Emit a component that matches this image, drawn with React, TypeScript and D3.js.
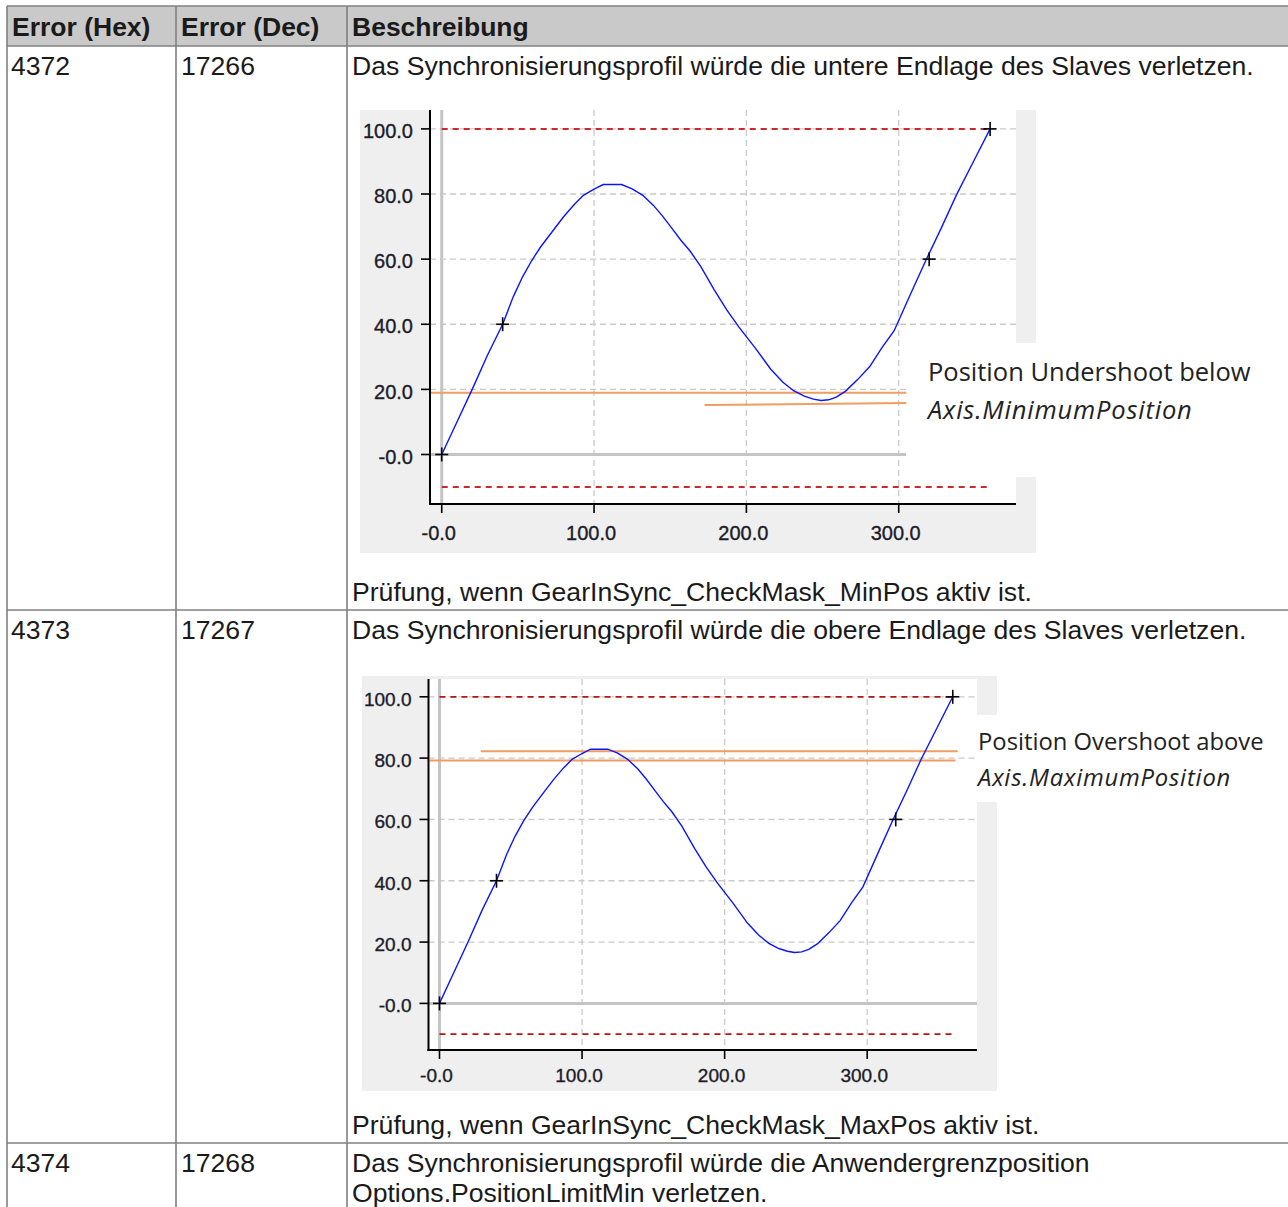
import React from 'react'
import * as d3 from 'd3'

// cam profile (master position -> slave position)
const profileX = [0, 10, 20, 30, 40, 47, 53, 59, 65, 71, 80, 87, 93, 100, 106, 112, 118, 125, 132, 139, 145, 151, 157, 163, 170, 179, 187, 195, 206, 216, 224, 231, 238, 244, 249, 254, 259, 265, 273, 281, 289, 297, 308, 318, 328, 338, 349, 360]
const profileY = [0, 10, 20, 30.5, 40, 48.5, 54.5, 59.5, 63.8, 67.5, 73, 76.8, 79.6, 81.5, 82.9, 82.9, 82.9, 81.6, 79.6, 76.5, 73.2, 69.5, 65.8, 62.5, 57.8, 50.5, 44.5, 39.2, 32.6, 26.2, 22.2, 19.6, 17.9, 17.0, 16.6, 16.8, 17.6, 19.4, 23, 27, 32.8, 38, 49.5, 59.8, 69.6, 79.8, 89.9, 100]

const markerX = [0, 40, 320, 360]
const markerY = [0, 40, 60, 100]

const xTicks = [0, 100, 200, 300]
const yTicks = [0, 20, 40, 60, 80, 100]
const upperLimit = 100
const lowerLimit = -10
const limitEnd = 360
const xDomain = [-7.7, 377]
const yDomain = [-15.2, 105.8]

// orange guide lines [x0, x1, y0, y1]
const undershootLines = [
  [-7.7, 305, 19.0, 19.0],
  [172.5, 305, 15.2, 15.8],
]
const overshootLines = [
  [29, 363.5, 82.2, 82.2],
  [-7, 362, 79.2, 79.2],
]

const headers = ['Error (Hex)', 'Error (Dec)', 'Beschreibung']
const hexCodes = ['4372', '4373', '4374']
const decCodes = ['17266', '17267', '17268']
const descriptions = [
  ['Das Synchronisierungsprofil würde die untere Endlage des Slaves verletzen.'],
  ['Das Synchronisierungsprofil würde die obere Endlage des Slaves verletzen.'],
  ['Das Synchronisierungsprofil würde die Anwendergrenzposition', 'Options.PositionLimitMin verletzen.'],
]
const checks = [
  'Prüfung, wenn GearInSync_CheckMask_MinPos aktiv ist.',
  'Prüfung, wenn GearInSync_CheckMask_MaxPos aktiv ist.',
]
const annotations = [
  ['Position Undershoot below', 'Axis.MinimumPosition'],
  ['Position Overshoot above', 'Axis.MaximumPosition'],
]

const fmt = (d: number) => (d === 0 ? '-0.0' : d.toFixed(1))

type ChartProps = {
  panel: number[]
  plot: number[]
  cover: number[]
  zeroEnd: number
  guides: number[][]
  note: string[]
  noteX: number
  noteY: number[]
  noteFont: number
  tickFont: number
  xLabelOffset: number
  redColor: string
  redWidth: number
}

function Chart(p: ChartProps) {
  const [pl, pt, pr, pb] = p.plot
  const x = d3.scaleLinear().domain(xDomain).range([pl, pr])
  const y = d3.scaleLinear().domain(yDomain).range([pb, pt])
  const line = d3
    .line<number>()
    .x((_, i) => x(profileX[i]))
    .y(d => y(d))
  const gridColor = '#c9c9c9'
  const textColor = '#1c1c2a'
  const tickFamily = 'Liberation Sans, Arial, sans-serif'
  const noteFamily = 'Open Sans, Noto Sans, sans-serif'
  return (
    <g>
      <rect x={p.panel[0]} y={p.panel[1]} width={p.panel[2] - p.panel[0]} height={p.panel[3] - p.panel[1]} fill="#efefef" />
      <rect x={pl} y={pt} width={pr - pl} height={pb - pt} fill="#fff" />
      {yTicks.filter(d => d !== 0).map(d => (
        <line key={'gy' + d} x1={pl} x2={pr} y1={y(d)} y2={y(d)} stroke={gridColor} strokeWidth={1.3} strokeDasharray="6,4" />
      ))}
      {xTicks.filter(d => d !== 0).map(d => (
        <line key={'gx' + d} x1={x(d)} x2={x(d)} y1={pt} y2={pb} stroke={gridColor} strokeWidth={1.3} strokeDasharray="6,4" />
      ))}
      <line x1={x(0)} x2={x(0)} y1={pt} y2={pb} stroke="#c4c4c4" strokeWidth={3} />
      <line x1={pl} x2={p.zeroEnd} y1={y(0)} y2={y(0)} stroke="#c4c4c4" strokeWidth={3} />
      <rect x={p.cover[0]} y={p.cover[1]} width={p.cover[2] - p.cover[0]} height={p.cover[3] - p.cover[1]} fill="#fff" />
      {[upperLimit, lowerLimit].map(d => (
        <line key={'lim' + d} x1={x(0)} x2={x(limitEnd)} y1={y(d)} y2={y(d)} stroke={p.redColor} strokeWidth={p.redWidth} strokeDasharray="6,5" />
      ))}
      {p.guides.map((g, i) => (
        <line key={'gd' + i} x1={x(g[0])} x2={x(g[1])} y1={y(g[2])} y2={y(g[3])} stroke="#f39c62" strokeWidth={2} />
      ))}
      <path d={line(profileY) || ''} fill="none" stroke="#0a14ff" strokeWidth={1.4} />
      {markerX.map((d, i) => (
        <g key={'m' + i} stroke="#000" strokeWidth={1.6}>
          <line x1={x(d) - 6.5} x2={x(d) + 6.5} y1={y(markerY[i])} y2={y(markerY[i])} />
          <line x1={x(d)} x2={x(d)} y1={y(markerY[i]) - 7} y2={y(markerY[i]) + 7} />
        </g>
      ))}
      <line x1={pl} x2={pl} y1={pt} y2={pb + 1} stroke="#000" strokeWidth={2} />
      <line x1={pl - 1} x2={pr} y1={pb} y2={pb} stroke="#000" strokeWidth={2} />
      {yTicks.map(d => (
        <g key={'ty' + d}>
          <line x1={pl - 9} x2={pl} y1={y(d)} y2={y(d)} stroke="#000" strokeWidth={1.6} />
          <text x={pl - 17} y={y(d) + 2} dy="0.36em" textAnchor="end" fontSize={p.tickFont} fill={textColor} stroke={textColor} strokeWidth={0.35} fontFamily={tickFamily}>
            {fmt(d)}
          </text>
        </g>
      ))}
      {xTicks.map(d => (
        <g key={'tx' + d}>
          <line x1={x(d)} x2={x(d)} y1={pb} y2={pb + 9} stroke="#000" strokeWidth={1.6} />
          <text x={x(d) - 3} y={pb + p.xLabelOffset} textAnchor="middle" fontSize={p.tickFont} fill={textColor} stroke={textColor} strokeWidth={0.35} fontFamily={tickFamily}>
            {fmt(d)}
          </text>
        </g>
      ))}
      <text x={p.noteX} y={p.noteY[0]} fontSize={p.noteFont} fill="#222" fontFamily={noteFamily}>
        {p.note[0]}
      </text>
      <text x={p.noteX} y={p.noteY[1]} fontSize={p.noteFont} letterSpacing={0.8} fill="#222" fontStyle="italic" fontFamily={noteFamily}>
        {p.note[1]}
      </text>
    </g>
  )
}

export default function App() {
  const W = 1288
  const H = 1207
  const colX = [7, 176, 347]
  const rowY = [6, 46, 610, 1143]
  const font = 'Liberation Sans, Arial, sans-serif'
  const fs = 26.6
  const border = '#808080'
  return (
    <svg width={W} height={H} style={{ position: 'absolute', left: 0, top: 0, background: '#fff' }}>
      <rect x={colX[0]} y={rowY[0]} width={W - colX[0]} height={rowY[1] - rowY[0]} fill="#c9c9c9" />
      {rowY.map((yy, i) => (
        <line key={'h' + i} x1={colX[0]} x2={W} y1={yy} y2={yy} stroke={border} strokeWidth={1.6} />
      ))}
      {colX.map((xx, i) => (
        <line key={'v' + i} x1={xx} x2={xx} y1={rowY[0]} y2={H} stroke={border} strokeWidth={1.6} />
      ))}
      {headers.map((h, i) => (
        <text key={h} x={colX[i] + 5} y={36} fontSize={26.5} fontWeight="bold" fill="#1a1a1a" fontFamily={font}>
          {h}
        </text>
      ))}
      {hexCodes.map((c, i) => (
        <g key={c}>
          <text x={colX[0] + 4} y={rowY[i + 1] + 29} fontSize={fs} fill="#1a1a1a" fontFamily={font}>
            {c}
          </text>
          <text x={colX[1] + 5} y={rowY[i + 1] + 29} fontSize={fs} fill="#1a1a1a" fontFamily={font}>
            {decCodes[i]}
          </text>
          {descriptions[i].map((t, j) => (
            <text key={j} x={colX[2] + 5} y={rowY[i + 1] + 29 + j * 30} fontSize={fs} fill="#1a1a1a" fontFamily={font}>
              {t}
            </text>
          ))}
        </g>
      ))}
      {checks.map((c, i) => (
        <text key={c} x={colX[2] + 5} y={rowY[i + 2] - 9} fontSize={fs} fill="#1a1a1a" fontFamily={font}>
          {c}
        </text>
      ))}
      <Chart
        panel={[360, 110, 1036, 553]}
        plot={[430, 110, 1016, 504]}
        cover={[906, 343, 1284, 477]}
        zeroEnd={906}
        guides={undershootLines}
        note={annotations[0]}
        noteX={928}
        noteY={[381, 419]}
        noteFont={25.5}
        tickFont={20}
        xLabelOffset={36}
        redColor="#cc2a2a"
        redWidth={2}
      />
      <Chart
        panel={[362, 676, 997, 1091]}
        plot={[428.5, 679, 977, 1050]}
        cover={[977, 715, 1284, 802]}
        zeroEnd={977}
        guides={overshootLines}
        note={annotations[1]}
        noteX={978}
        noteY={[750, 786]}
        noteFont={23.8}
        tickFont={19}
        xLabelOffset={32}
        redColor="#b81414"
        redWidth={1.7}
      />
    </svg>
  )
}
